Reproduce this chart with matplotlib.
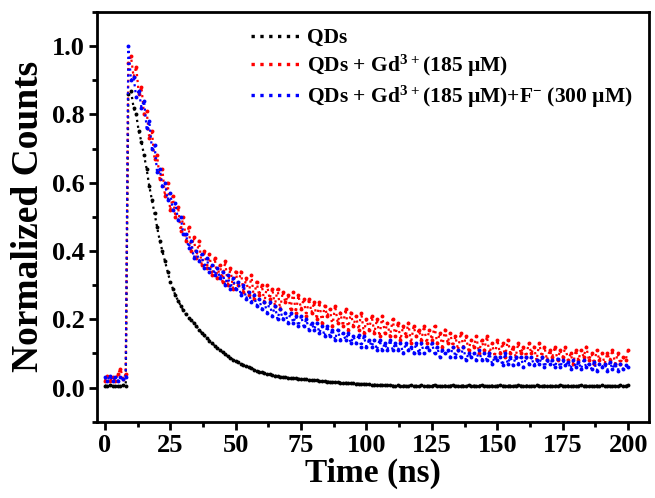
import numpy as np
import matplotlib
matplotlib.use("Agg")
import matplotlib.pyplot as plt
from matplotlib.ticker import MultipleLocator

plt.rcParams['font.family'] = ['Liberation Serif', 'DejaVu Serif']
plt.rcParams['font.weight'] = 'bold'
plt.rcParams['mathtext.fontset'] = 'custom'
plt.rcParams['mathtext.rm'] = 'Liberation Serif:bold'
plt.rcParams['mathtext.bf'] = 'Liberation Serif:bold'
plt.rcParams['mathtext.default'] = 'bf'

# time axis (ns), 1 ns channels
time_ns = np.arange(0, 201)

qds = [0.006, 0.005, 0.007, 0.005, 0.006, 0.004, 0.006, 0.007, 0.006,
       0.86, 0.87, 0.82, 0.80, 0.75, 0.72, 0.68, 0.64, 0.59, 0.55, 0.51, 0.47,
       0.43, 0.40, 0.37, 0.34, 0.31, 0.29, 0.27, 0.255, 0.24, 0.226,
       0.215, 0.205, 0.197, 0.19, 0.18, 0.17, 0.161, 0.153, 0.145, 0.138,
       0.13, 0.123, 0.117, 0.11, 0.104, 0.098, 0.092, 0.087, 0.082, 0.078,
       0.074, 0.07, 0.066, 0.063, 0.06, 0.057, 0.053, 0.05, 0.047, 0.045,
       0.043, 0.041, 0.039, 0.037, 0.035, 0.034, 0.032, 0.031, 0.03, 0.029,
       0.028, 0.028, 0.027, 0.026, 0.026, 0.025, 0.024, 0.023, 0.022, 0.021,
       0.021, 0.02, 0.019, 0.019, 0.018, 0.018, 0.017, 0.016, 0.016, 0.015,
       0.015, 0.014, 0.014, 0.013, 0.013, 0.012, 0.012, 0.011, 0.011, 0.01,
       0.01, 0.009, 0.009, 0.008, 0.008, 0.008, 0.007, 0.007, 0.007, 0.006,
       0.006, 0.007, 0.005, 0.006, 0.006, 0.005, 0.007, 0.006, 0.005, 0.006,
       0.007, 0.006, 0.005, 0.006, 0.006, 0.008, 0.006, 0.005, 0.006, 0.006,
       0.005, 0.006, 0.007, 0.006, 0.005, 0.006, 0.006, 0.005, 0.007, 0.006,
       0.006, 0.005, 0.006, 0.007, 0.006, 0.005, 0.006, 0.006, 0.005, 0.006,
       0.007, 0.006, 0.005, 0.006, 0.006, 0.005, 0.006, 0.007, 0.006, 0.005,
       0.006, 0.006, 0.005, 0.006, 0.007, 0.006, 0.005, 0.006, 0.006, 0.005,
       0.006, 0.005, 0.006, 0.007, 0.006, 0.005, 0.006, 0.006, 0.005, 0.006,
       0.006, 0.007, 0.005, 0.006, 0.006, 0.005, 0.006, 0.006, 0.005, 0.007,
       0.006, 0.005, 0.006, 0.006, 0.005, 0.006, 0.007, 0.006, 0.005, 0.007]

qds_gd = [0.02, 0.035, 0.02, 0.03, 0.02, 0.04, 0.055, 0.025, 0.04,
          0.95, 0.97, 0.91, 0.94, 0.86, 0.88, 0.80, 0.81, 0.73, 0.75, 0.67, 0.68,
          0.61, 0.64, 0.56, 0.60, 0.52, 0.56, 0.50, 0.53, 0.46, 0.50,
          0.43, 0.47, 0.40, 0.44, 0.38, 0.43, 0.36, 0.40, 0.35, 0.39,
          0.33, 0.38, 0.32, 0.36, 0.31, 0.37, 0.30, 0.35, 0.29, 0.34,
          0.30, 0.34, 0.28, 0.32, 0.27, 0.33, 0.26, 0.31, 0.27, 0.30,
          0.25, 0.30, 0.26, 0.29, 0.24, 0.29, 0.23, 0.28, 0.25, 0.27,
          0.23, 0.28, 0.22, 0.27, 0.23, 0.26, 0.21, 0.26, 0.22, 0.25,
          0.20, 0.25, 0.19, 0.24, 0.21, 0.23, 0.18, 0.24, 0.19, 0.22,
          0.18, 0.23, 0.17, 0.22, 0.18, 0.21, 0.17, 0.22, 0.16, 0.20,
          0.17, 0.21, 0.16, 0.20, 0.15, 0.21, 0.16, 0.19, 0.15, 0.20,
          0.15, 0.19, 0.14, 0.18, 0.15, 0.19, 0.13, 0.18, 0.15, 0.17,
          0.14, 0.18, 0.13, 0.17, 0.14, 0.18, 0.13, 0.16, 0.12, 0.17,
          0.13, 0.16, 0.12, 0.15, 0.11, 0.16, 0.12, 0.15, 0.11, 0.14,
          0.12, 0.15, 0.10, 0.14, 0.11, 0.15, 0.10, 0.13, 0.09, 0.14,
          0.10, 0.13, 0.09, 0.14, 0.10, 0.12, 0.09, 0.13, 0.10, 0.12,
          0.09, 0.13, 0.10, 0.12, 0.08, 0.13, 0.09, 0.12, 0.08, 0.11,
          0.09, 0.12, 0.08, 0.11, 0.09, 0.12, 0.08, 0.10, 0.07, 0.11,
          0.08, 0.11, 0.09, 0.12, 0.08, 0.10, 0.07, 0.11, 0.08, 0.10,
          0.07, 0.10, 0.08, 0.11, 0.07, 0.10, 0.07, 0.09, 0.08, 0.11]

qds_gd_f = [0.03, 0.02, 0.035, 0.02, 0.03, 0.02, 0.03, 0.025, 0.03,
            1.00, 0.90, 0.91, 0.85, 0.87, 0.82, 0.84, 0.76, 0.78, 0.70, 0.71, 0.63,
            0.64, 0.59, 0.60, 0.55, 0.57, 0.52, 0.54, 0.49, 0.50, 0.45,
            0.45, 0.41, 0.43, 0.38, 0.40, 0.37, 0.39, 0.35, 0.38, 0.34,
            0.36, 0.33, 0.35, 0.32, 0.34, 0.30, 0.33, 0.29, 0.32, 0.29,
            0.31, 0.27, 0.30, 0.26, 0.28, 0.25, 0.27, 0.24, 0.26, 0.23,
            0.25, 0.22, 0.25, 0.21, 0.24, 0.20, 0.23, 0.20, 0.22, 0.19,
            0.22, 0.19, 0.21, 0.18, 0.21, 0.18, 0.20, 0.17, 0.19, 0.17,
            0.19, 0.16, 0.18, 0.15, 0.18, 0.15, 0.17, 0.14, 0.17, 0.14,
            0.16, 0.14, 0.16, 0.13, 0.15, 0.13, 0.155, 0.12, 0.15, 0.12,
            0.14, 0.12, 0.14, 0.11, 0.14, 0.11, 0.13, 0.11, 0.14, 0.11,
            0.13, 0.11, 0.13, 0.10, 0.13, 0.11, 0.12, 0.10, 0.13, 0.10,
            0.13, 0.10, 0.12, 0.11, 0.13, 0.10, 0.12, 0.09, 0.11, 0.10,
            0.11, 0.09, 0.12, 0.09, 0.11, 0.09, 0.12, 0.08, 0.10, 0.09,
            0.10, 0.08, 0.11, 0.08, 0.10, 0.08, 0.10, 0.07, 0.09, 0.08,
            0.09, 0.065, 0.10, 0.07, 0.09, 0.065, 0.09, 0.07, 0.09, 0.06,
            0.09, 0.07, 0.09, 0.065, 0.08, 0.07, 0.09, 0.06, 0.08, 0.07,
            0.08, 0.06, 0.085, 0.06, 0.08, 0.065, 0.075, 0.055, 0.08, 0.06,
            0.075, 0.055, 0.08, 0.06, 0.07, 0.055, 0.075, 0.05, 0.07, 0.06,
            0.07, 0.05, 0.075, 0.055, 0.07, 0.05, 0.07, 0.055, 0.065, 0.06]

labels = ['QDs',
          'QDs + Gd$^{3+}$(185 µM)',
          'QDs + Gd$^{3+}$(185 µM)+F$^{-}$ (300 µM)']
colors = ['black', '#ff0000', '#0000ff']

fig = plt.figure(figsize=(6.55, 4.98), dpi=100)
ax = fig.add_axes([0.148, 0.153, 0.843, 0.823])

for y, lab, c in zip([qds, qds_gd, qds_gd_f], labels, colors):
    ax.plot(time_ns, y, ls=':', lw=1.6, color=c, marker='o', ms=2.8,
            mew=0, label=lab)

ax.set_xlim(-3, 208)
ax.set_ylim(-0.1, 1.1)
ax.xaxis.set_major_locator(MultipleLocator(25))
ax.xaxis.set_minor_locator(MultipleLocator(12.5))
ax.set_yticks(np.arange(0, 1.01, 0.2))
ax.yaxis.set_minor_locator(MultipleLocator(0.1))
ax.yaxis.set_major_formatter(plt.FormatStrFormatter('%.1f'))

for s in ax.spines.values():
    s.set_linewidth(2)
ax.tick_params(which='major', direction='out', length=6, width=2,
               labelsize=19, top=False, right=False, pad=3)
ax.tick_params(which='minor', direction='out', length=3.5, width=2,
               top=False, right=False)
for lbl in ax.get_xticklabels() + ax.get_yticklabels():
    lbl.set_fontweight('bold')

ax.set_xlabel('Time (ns)', fontsize=24, fontweight='bold', labelpad=0)
ax.set_ylabel('Normalized Counts', fontsize=27, fontweight='bold', labelpad=4)

leg = ax.legend(loc='upper right', frameon=False, fontsize=15.5,
                handlelength=2.3, handletextpad=0.3, labelspacing=0.22,
                borderaxespad=0.55, borderpad=0.2)
for h in leg.get_lines():
    h.set_marker('')
    h.set_linewidth(2.4)

fig.savefig('out.png', dpi=100)
